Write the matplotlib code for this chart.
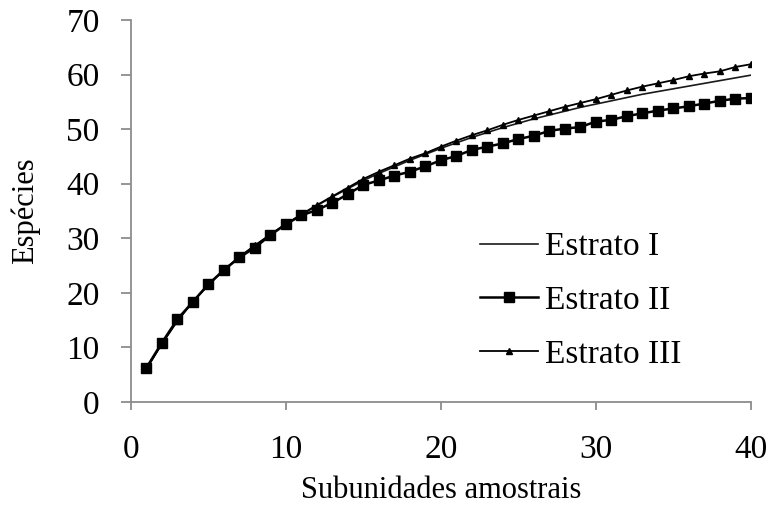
import matplotlib
matplotlib.use("Agg")
import matplotlib.pyplot as plt

x = list(range(1, 41))

estrato_ii = [6.3, 10.9, 15.2, 18.4, 21.6, 24.2, 26.5, 28.3, 30.6, 32.6,
              34.2, 35.2, 36.5, 38.1, 39.8, 40.6, 41.5, 42.2, 43.2, 44.3,
              45.1, 46.2, 46.8, 47.4, 48.2, 48.8, 49.7, 50.1, 50.4, 51.4,
              51.7, 52.4, 52.9, 53.4, 53.8, 54.2, 54.7, 55.2, 55.6, 55.7]

estrato_iii = [6.1, 10.7, 14.9, 18.4, 21.5, 24.2, 26.6, 28.7, 30.7, 32.6,
               34.4, 36.1, 37.7, 39.3, 40.9, 42.2, 43.4, 44.6, 45.6, 46.8,
               47.9, 48.9, 49.8, 50.8, 51.7, 52.5, 53.3, 54.1, 54.8, 55.5,
               56.3, 57.1, 57.8, 58.4, 59.0, 59.7, 60.2, 60.6, 61.4, 61.9]

estrato_i = [6.1, 10.7, 14.9, 18.4, 21.5, 24.2, 26.6, 28.7, 30.7, 32.6,
             34.3, 36.0, 37.6, 39.1, 40.6, 41.9, 43.1, 44.3, 45.4, 46.5,
             47.5, 48.5, 49.4, 50.3, 51.1, 51.9, 52.6, 53.3, 54.0, 54.6,
             55.2, 55.8, 56.4, 56.9, 57.4, 57.9, 58.4, 58.9, 59.4, 59.9]

xticks = [0, 10, 20, 30, 40]
yticks = [0, 10, 20, 30, 40, 50, 60, 70]

plt.rcParams['font.family'] = ['Liberation Serif', 'DejaVu Serif']

fig = plt.figure(figsize=(7.71, 5.15), dpi=100)
ax = fig.add_axes([0.1699, 0.2194, 0.8041, 0.7417])

ax.plot(x, estrato_i, color='#1a1a1a', lw=1.2, label='Estrato I')
ax.plot(x, estrato_ii, color='black', lw=1.8, marker='s', markersize=7.5,
        label='Estrato II')
ax.plot(x, estrato_iii, color='black', lw=1.3, marker='^', markersize=4.5,
        label='Estrato III')

ax.set_xlim(0, 40)
ax.set_ylim(0, 70)
ax.set_xticks(xticks)
ax.set_yticks(yticks)

for s in ['top', 'right']:
    ax.spines[s].set_visible(False)
for s in ['left', 'bottom']:
    ax.spines[s].set_color('#8c8c8c')
    ax.spines[s].set_linewidth(1.3)
ax.tick_params(axis='both', direction='out', width=1.3,
               color='#8c8c8c', labelsize=24, labelcolor='black')
ax.tick_params(axis='y', length=7, pad=15.5)
ax.tick_params(axis='x', length=6, pad=17.5)

ax.set_xlabel('Subunidades amostrais', fontsize=22, labelpad=8)
ax.set_ylabel('Espécies', fontsize=22, labelpad=19)

leg = ax.legend(loc='center left', bbox_to_anchor=(0.563, 0.265),
                frameon=False, fontsize=24, handlelength=1.75,
                handletextpad=0.2, labelspacing=0.7,
                borderpad=0, borderaxespad=0)

fig.savefig('out.png', dpi=100)
